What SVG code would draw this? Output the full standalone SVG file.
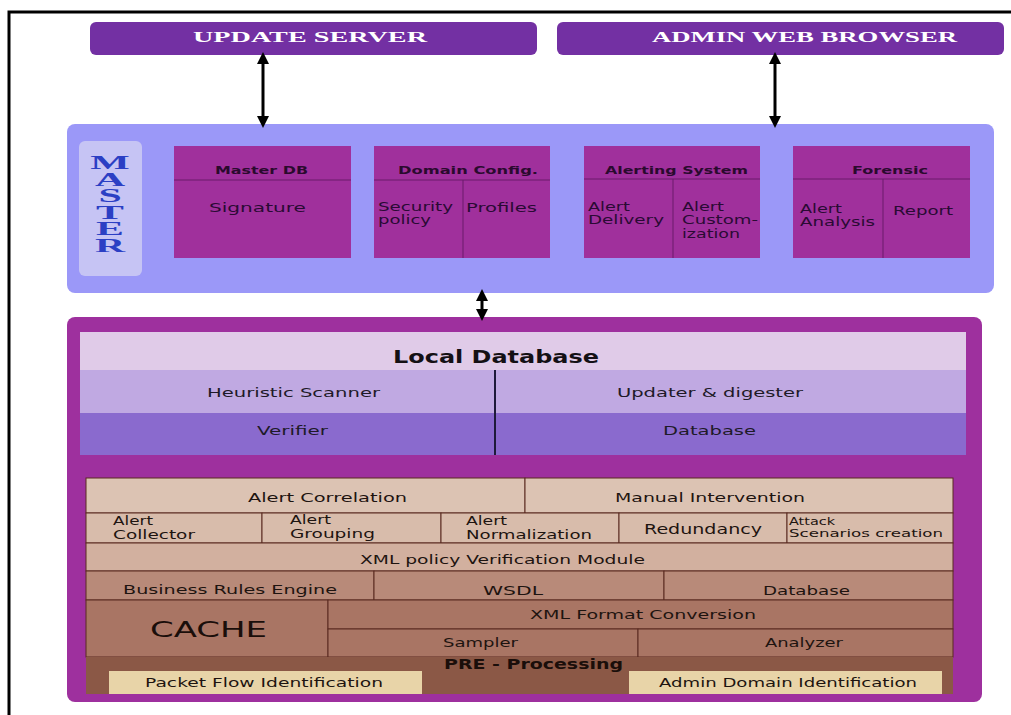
<svg xmlns="http://www.w3.org/2000/svg" width="1011" height="715" viewBox="0 0 1011 715">
  <defs>
    <marker id="tip" viewBox="0 0 10 10" refX="5" refY="5" markerWidth="4" markerHeight="4" orient="auto-start-reverse">
      <path d="M0,0 L10,5 L0,10 z" fill="#000"/>
    </marker>
  </defs>
  <style>
    .cap { font-family: "Liberation Serif", "DejaVu Serif", serif; font-weight: bold; fill: #ffffff; font-size: 15px; }
    .hdr { font-family: "DejaVu Sans", "Liberation Sans", sans-serif; font-weight: bold; fill: #2a0a2e; font-size: 11px; }
    .mt { font-family: "DejaVu Sans", "Liberation Sans", sans-serif; fill: #2a0a34; font-size: 12.5px; }
    .m2 { font-family: "DejaVu Sans", "Liberation Sans", sans-serif; fill: #2a0a34; font-size: 11.5px; }
    .lt { font-family: "DejaVu Sans", "Liberation Sans", sans-serif; fill: #1e1a28; font-size: 13px; }
    .bt { font-family: "DejaVu Sans", "Liberation Sans", sans-serif; fill: #1e1410; font-size: 12.5px; }
    .b2 { font-family: "DejaVu Sans", "Liberation Sans", sans-serif; fill: #1e1410; font-size: 11.5px; }
    .sm { font-family: "DejaVu Sans", "Liberation Sans", sans-serif; fill: #1e1410; font-size: 10px; }
    .ms { font-family: "Liberation Serif", "DejaVu Serif", serif; font-weight: bold; fill: #2b3fc4; font-size: 19px;
          writing-mode: vertical-rl; text-orientation: upright; letter-spacing: -4.5px; }
    .cell { stroke: #5a2a20; stroke-width: 1; }
    .rule { stroke: #6a1a6a; stroke-width: 1; }
    .wire { stroke: #000; stroke-width: 3; fill: none; marker-start: url(#tip); marker-end: url(#tip); }
  </style>

  <rect width="1011" height="715" fill="#ffffff"/>
  <!-- page frame -->
  <path d="M9,715 V12 H1011" fill="none" stroke="#000" stroke-width="3"/>

  <!-- top boxes -->
  <g id="update-server">
    <rect x="90" y="22" width="447" height="33" rx="6" fill="#7330a3"/>
    <text class="cap" x="193" y="42" textLength="234" lengthAdjust="spacingAndGlyphs">UPDATE SERVER</text>
  </g>
  <g id="admin-web-browser">
    <rect x="557" y="22" width="447" height="33" rx="6" fill="#7330a3"/>
    <text class="cap" x="652" y="42" textLength="305" lengthAdjust="spacingAndGlyphs">ADMIN WEB BROWSER</text>
  </g>

  <!-- master tier -->
  <g id="master">
    <rect x="67" y="124" width="927" height="169" rx="8" fill="#9b98f8"/>
    <rect x="79" y="141" width="63" height="135" rx="6" fill="#c6c4f4"/>
    <!-- stacked upright title -->
    <text class="ms" x="0" y="152" transform="translate(110 0) scale(2.2 1)">MASTER</text>
  </g>

  <g id="master-db">
    <rect x="174" y="146" width="177" height="112" fill="#a0309c"/>
    <line class="rule" x1="174" y1="180" x2="351" y2="180"/>
    <text class="hdr" x="215" y="174" textLength="93" lengthAdjust="spacingAndGlyphs">Master DB</text>
    <text class="mt" x="209" y="212" textLength="97" lengthAdjust="spacingAndGlyphs">Signature</text>
  </g>

  <g id="domain-config">
    <rect x="374" y="146" width="176" height="112" fill="#a0309c"/>
    <line class="rule" x1="374" y1="180" x2="550" y2="180"/>
    <line class="rule" x1="463" y1="180" x2="463" y2="258"/>
    <text class="hdr" x="398" y="174" textLength="140" lengthAdjust="spacingAndGlyphs">Domain Config.</text>
    <text class="m2"><tspan x="378" y="211" textLength="75" lengthAdjust="spacingAndGlyphs">Security</tspan><tspan x="378" y="224" textLength="53" lengthAdjust="spacingAndGlyphs">policy</tspan></text>
    <text class="mt" x="466" y="212" textLength="71" lengthAdjust="spacingAndGlyphs">Profiles</text>
  </g>

  <g id="alerting-system">
    <rect x="584" y="146" width="176" height="112" fill="#a0309c"/>
    <line class="rule" x1="584" y1="179" x2="760" y2="179"/>
    <line class="rule" x1="673" y1="179" x2="673" y2="258"/>
    <text class="hdr" x="605" y="174" textLength="143" lengthAdjust="spacingAndGlyphs">Alerting System</text>
    <text class="m2"><tspan x="588" y="211" textLength="42" lengthAdjust="spacingAndGlyphs">Alert</tspan><tspan x="588" y="224" textLength="76" lengthAdjust="spacingAndGlyphs">Delivery</tspan></text>
    <text class="m2"><tspan x="682" y="211" textLength="42" lengthAdjust="spacingAndGlyphs">Alert</tspan><tspan x="682" y="224" textLength="76" lengthAdjust="spacingAndGlyphs">Custom-</tspan><tspan x="682" y="238" textLength="58" lengthAdjust="spacingAndGlyphs">ization</tspan></text>
  </g>

  <g id="forensic">
    <rect x="793" y="146" width="177" height="112" fill="#a0309c"/>
    <line class="rule" x1="793" y1="179" x2="970" y2="179"/>
    <line class="rule" x1="883" y1="179" x2="883" y2="258"/>
    <text class="hdr" x="852" y="174" textLength="76" lengthAdjust="spacingAndGlyphs">Forensic</text>
    <text class="m2"><tspan x="800" y="213" textLength="42" lengthAdjust="spacingAndGlyphs">Alert</tspan><tspan x="800" y="226" textLength="75" lengthAdjust="spacingAndGlyphs">Analysis</tspan></text>
    <text class="mt" x="893" y="215" textLength="60" lengthAdjust="spacingAndGlyphs">Report</text>
  </g>

  <!-- local tier -->
  <g id="local-tier">
    <rect x="67" y="317" width="915" height="385" rx="8" fill="#9e309e"/>
  </g>

  <g id="local-database">
    <rect x="80" y="332" width="886" height="38" fill="#e0cbe8"/>
    <rect x="80" y="370" width="886" height="43" fill="#c0a9e2"/>
    <rect x="80" y="413" width="886" height="42" fill="#8a6ace"/>
    <line x1="495" y1="370" x2="495" y2="455" stroke="#1e1a3a" stroke-width="2"/>
    <text x="393" y="363" textLength="206" lengthAdjust="spacingAndGlyphs" style="font-family:'DejaVu Sans','Liberation Sans',sans-serif;font-weight:bold;font-size:17px;fill:#141014">Local Database</text>
    <text class="lt" x="207" y="397" textLength="173" lengthAdjust="spacingAndGlyphs">Heuristic Scanner</text>
    <text class="lt" x="617" y="397" textLength="186" lengthAdjust="spacingAndGlyphs">Updater &amp; digester</text>
    <text class="lt" x="257" y="435" textLength="71" lengthAdjust="spacingAndGlyphs" fill="#1a1440">Verifier</text>
    <text class="lt" x="663" y="435" textLength="93" lengthAdjust="spacingAndGlyphs" fill="#1a1440">Database</text>
  </g>

  <g id="alert-processing">
    <rect class="cell" x="86" y="478" width="439" height="35" fill="#dcc3b3"/>
    <rect class="cell" x="525" y="478" width="428" height="35" fill="#dcc3b3"/>
    <text class="bt" x="248" y="502" textLength="159" lengthAdjust="spacingAndGlyphs">Alert Correlation</text>
    <text class="bt" x="615" y="502" textLength="190" lengthAdjust="spacingAndGlyphs">Manual Intervention</text>

    <rect class="cell" x="86" y="513" width="176" height="30" fill="#d8bcab"/>
    <rect class="cell" x="262" y="513" width="179" height="30" fill="#d8bcab"/>
    <rect class="cell" x="441" y="513" width="178" height="30" fill="#d8bcab"/>
    <rect class="cell" x="619" y="513" width="168" height="30" fill="#d8bcab"/>
    <rect class="cell" x="787" y="513" width="166" height="30" fill="#d8bcab"/>
    <text class="b2"><tspan x="113" y="525" textLength="40" lengthAdjust="spacingAndGlyphs">Alert</tspan><tspan x="113" y="539" textLength="82" lengthAdjust="spacingAndGlyphs">Collector</tspan></text>
    <text class="b2"><tspan x="290" y="524" textLength="41" lengthAdjust="spacingAndGlyphs">Alert</tspan><tspan x="290" y="538" textLength="85" lengthAdjust="spacingAndGlyphs">Grouping</tspan></text>
    <text class="b2"><tspan x="466" y="525" textLength="41" lengthAdjust="spacingAndGlyphs">Alert</tspan><tspan x="466" y="539" textLength="126" lengthAdjust="spacingAndGlyphs">Normalization</tspan></text>
    <text class="bt" x="644" y="534" textLength="118" lengthAdjust="spacingAndGlyphs" style="font-size:14px">Redundancy</text>
    <text class="sm"><tspan x="789" y="525" textLength="46" lengthAdjust="spacingAndGlyphs">Attack</tspan><tspan x="789" y="537" textLength="154" lengthAdjust="spacingAndGlyphs">Scenarios creation</tspan></text>

    <rect class="cell" x="86" y="543" width="867" height="28" fill="#d2b09f"/>
    <text class="bt" x="360" y="564" textLength="285" lengthAdjust="spacingAndGlyphs">XML policy Verification Module</text>
  </g>

  <g id="services">
    <rect class="cell" x="86" y="571" width="288" height="29" fill="#b88a79"/>
    <rect class="cell" x="374" y="571" width="290" height="29" fill="#b88a79"/>
    <rect class="cell" x="664" y="571" width="289" height="29" fill="#b88a79"/>
    <text class="bt" x="123" y="594" textLength="214" lengthAdjust="spacingAndGlyphs">Business Rules Engine</text>
    <text class="bt" x="483" y="595" textLength="60" lengthAdjust="spacingAndGlyphs">WSDL</text>
    <text class="bt" x="763" y="595" textLength="87" lengthAdjust="spacingAndGlyphs">Database</text>
  </g>

  <g id="cache">
    <rect class="cell" x="86" y="600" width="242" height="57" fill="#a97564"/>
    <text x="150" y="637" textLength="117" lengthAdjust="spacingAndGlyphs" style="font-family:'DejaVu Sans','Liberation Sans',sans-serif;font-size:21px;fill:#1a0e0a">CACHE</text>
  </g>

  <g id="conversion">
    <rect class="cell" x="328" y="600" width="625" height="29" fill="#a97564"/>
    <rect class="cell" x="328" y="629" width="310" height="28" fill="#a97564"/>
    <rect class="cell" x="638" y="629" width="315" height="28" fill="#a97564"/>
    <text class="bt" x="530" y="619" textLength="226" lengthAdjust="spacingAndGlyphs">XML Format Conversion</text>
    <text class="bt" x="443" y="647" textLength="75" lengthAdjust="spacingAndGlyphs">Sampler</text>
    <text class="bt" x="765" y="647" textLength="78" lengthAdjust="spacingAndGlyphs">Analyzer</text>
  </g>

  <g id="pre-processing">
    <rect x="86" y="657" width="867" height="37" fill="#8b5846"/>
    <text x="444" y="669" textLength="179" lengthAdjust="spacingAndGlyphs" style="font-family:'DejaVu Sans','Liberation Sans',sans-serif;font-weight:bold;font-size:13.5px;fill:#1a0e0a">PRE - Processing</text>
    <rect x="109" y="671" width="313" height="23" fill="#e8d4a8"/>
    <rect x="629" y="671" width="313" height="23" fill="#e8d4a8"/>
    <text class="bt" x="145" y="687" textLength="238" lengthAdjust="spacingAndGlyphs">Packet Flow Identification</text>
    <text class="bt" x="659" y="687" textLength="258" lengthAdjust="spacingAndGlyphs">Admin Domain Identification</text>
  </g>

  <!-- connectors -->
  <g id="connectors">
    <line class="wire" x1="263" y1="58" x2="263" y2="122"/>
    <line class="wire" x1="775" y1="58" x2="775" y2="122"/>
    <line class="wire" x1="482" y1="295" x2="482" y2="315"/>
  </g>
</svg>
